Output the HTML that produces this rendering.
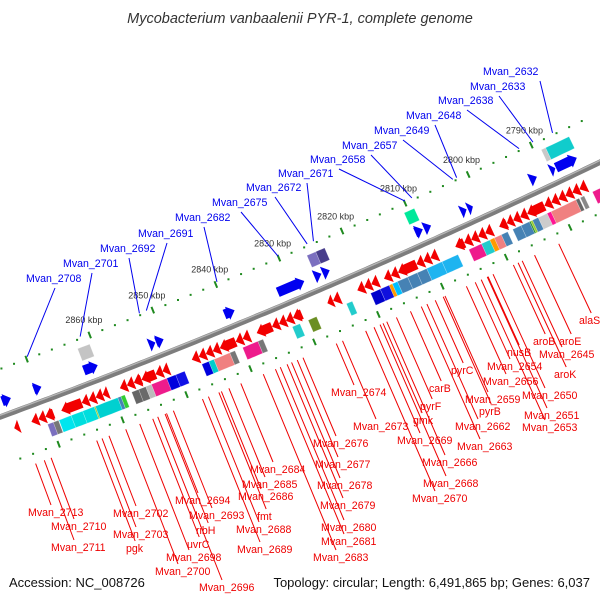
<!DOCTYPE html>
<html><head><meta charset="utf-8">
<style>
html,body{margin:0;padding:0;background:#fff;}
svg{display:block;font-family:"Liberation Sans",sans-serif;}
</style></head>
<body>
<svg id="map" width="600" height="600" viewBox="0 0 600 600" xmlns="http://www.w3.org/2000/svg">
<text x="300" y="23" text-anchor="middle" font-style="italic" font-size="14.5" fill="#333">Mycobacterium vanbaalenii PYR-1, complete genome</text>
<text x="9" y="587" font-size="13" fill="#111">Accession: NC_008726</text>
<text x="590" y="587" text-anchor="end" font-size="13" fill="#111">Topology: circular; Length: 6,491,865 bp; Genes: 6,037</text>
<g id="layer"></g>
</svg>
<script>
// ---- data (kbp) ----
const fwdStart=[2875.6,2870.6,2862.7,2852.4,2851.3,2840.5,2832.1,2826.3,2825.0,2810.4,2809.0,2803.2,2802.1,2792.3,2789.1,2788.2];
const fwdEnd  =[2874.2,2869.4,2860.5,2851.4,2850.1,2838.9,2827.9,2825.2,2823.9,2809.2,2807.9,2802.3,2801.3,2791.2,2788.3,2784.9];
const revStart=[2875.3,2872.6,2871.5,2870.4,2867.9,2864.7,2863.6,2862.5,2861.4,2858.7,2857.6,2856.5,2855.3,2853.1,2852.0,2847.4,2846.3,2845.2,2844.1,2843.0,2840.5,2839.4,2837.2,2834.8,2833.7,2832.6,2831.5,2826.1,2825.2,2821.4,2820.3,2819.2,2817.2,2816.1,2815.0,2812.1,2811.0,2809.9,2806.0,2804.6,2803.5,2802.4,2801.3,2799.1,2797.9,2796.9,2795.8,2794.7,2792.0,2790.9,2789.8,2788.7,2787.6,2786.5,2782.8];
const revEnd  =[2874.5,2871.5,2870.4,2869.1,2864.7,2863.6,2862.5,2861.4,2860.5,2857.6,2856.5,2855.3,2853.1,2852.0,2851.0,2846.3,2845.2,2844.1,2843.0,2840.5,2839.4,2838.3,2834.8,2833.7,2832.6,2831.5,2830.1,2825.2,2824.1,2820.3,2819.2,2818.1,2816.1,2815.0,2812.1,2811.0,2809.9,2808.8,2804.6,2803.5,2802.4,2801.3,2800.2,2797.9,2796.9,2795.8,2794.7,2792.0,2790.9,2789.8,2788.7,2787.6,2786.5,2785.4,2781.3];
const cogUpStart=[2862.4,2826.1,2824.7,2810.7,2789.0,2788.3];
const cogUpEnd  =[2860.5,2824.7,2823.3,2809.1,2788.3,2784.6];
const cogUpColor=["#c4c4c4","#7b6fbf","#483d8b","#00e89a","#c8c8c8","#10cccc"];
const cogLoStart=[2870.5,2869.6,2868.7,2866.8,2865.0,2863.2,2863.0,2859.5,2859.0,2857.3,2856.2,2855.1,2854.2,2851.8,2850.4,2846.3,2845.2,2844.4,2841.9,2839.9,2837.5,2832.1,2829.6,2823.6,2819.8,2818.3,2816.9,2816.4,2815.6,2814.0,2812.5,2811.0,2808.6,2804.4,2802.4,2801.1,2800.4,2799.3,2797.5,2796.2,2794.9,2794.7,2794.4,2793.5,2792.1,2791.5,2787.6,2786.9,2785.0,2781.4];
const cogLoEnd  =[2869.6,2868.8,2866.8,2865.0,2863.2,2863.0,2859.5,2859.0,2858.4,2856.2,2855.1,2854.2,2851.8,2850.4,2849.0,2845.2,2844.4,2841.9,2841.1,2837.5,2836.7,2830.9,2828.3,2822.7,2818.3,2816.9,2816.4,2815.6,2814.0,2812.5,2811.0,2808.6,2806.1,2802.4,2801.1,2800.4,2799.3,2798.3,2796.2,2794.9,2794.7,2794.4,2793.5,2792.1,2791.5,2787.6,2787.1,2786.3,2783.3,2780.6];
const cogLoColor=["#7b6fbf","#777777","#00e5ee","#00dede","#00dede","#9acd32","#00d0d0","#4682b4","#32cd32","#666666","#6a6a6a","#bbbbbb","#ee1b8c","#0000dd","#1010e6","#0000dd","#00cccc","#f08080","#777777","#ee1b8c","#777777","#22cccc","#6b8e23","#22cccc","#0000cc","#1010dd","#ff9900","#00bfff","#4682b4","#4682b4","#4682b4","#1eb4f0","#1eb4f0","#ee1b8c","#22cccc","#ff9900","#f08080","#4682b4","#4682b4","#4682b4","#228b22","#9acd32","#4682b4","#cccccc","#ff1493","#f08080","#666666","#888888","#ee1b8c","#777777"];
const tickKbp=[2790,2800,2810,2820,2830,2840,2850,2860];
const tickLabels=["2790 kbp","2800 kbp","2810 kbp","2820 kbp","2830 kbp","2840 kbp","2850 kbp","2860 kbp"];
const blueNames=["Mvan_2632","Mvan_2633","Mvan_2638","Mvan_2648","Mvan_2649","Mvan_2657","Mvan_2658","Mvan_2671","Mvan_2672","Mvan_2675","Mvan_2682","Mvan_2691","Mvan_2692","Mvan_2701","Mvan_2708"];
const blueKbp=[2786.5,2789.6,2791.8,2801.7,2802.3,2808.8,2809.9,2824.4,2825.4,2830.0,2839.7,2850.9,2852.0,2861.4,2869.8];
const redNames=["Mvan_2713","Mvan_2710","Mvan_2711","Mvan_2702","Mvan_2703","pgk","Mvan_2694","Mvan_2693","ribH","uvrC","Mvan_2698","Mvan_2700","Mvan_2696","Mvan_2684","Mvan_2685","Mvan_2686","fmt","Mvan_2688","Mvan_2689","Mvan_2683","Mvan_2681","Mvan_2680","Mvan_2679","Mvan_2678","Mvan_2677","Mvan_2676","Mvan_2674","Mvan_2673","Mvan_2669","gmk","pyrF","carB","pyrC","Mvan_2666","Mvan_2668","Mvan_2670","Mvan_2659","pyrB","Mvan_2662","Mvan_2663","Mvan_2656","Mvan_2654","nusB","aroB","aroE","Mvan_2645","aroK","Mvan_2650","Mvan_2651","Mvan_2653","alaS"];
// ---- layout (pixel placement of labels, not data) ----
const blueLayout=[[483,75],[470,90],[438,104],[406,119],[374,134],[342,149],[310,163],[278,177],[246,191],[212,206],[175,221],[138,237],[100,252],[63,267],[26,282]];
const redLayout=[[28,516],[51,530],[51,551],[113,517],[113,538],[126,552],[175,504],[189,519],[196,534],[187,548],[166,561],[155,575],[199,591],[250,473],[242,488],[238,500],[257,520],[236,533],[237,553],[313,561],[321,545],[321,531],[320,509],[317,489],[315,468],[313,447],[331,396],[353,430],[397,444],[413,424],[420,410],[429,392],[451,374],[422,466],[423,487],[412,502],[465,403],[479,415],[455,430],[457,450],[483,385],[487,370],[507,356],[533,345],[559,345],[539,358],[554,378],[522,399],[524,419],[522,431],[579,324]];

const NS="http://www.w3.org/2000/svg";
const layer=document.getElementById('layer');
function yb(x){return 417-0.368*x-9.44e-5*x*x;}
function slope(x){return -0.368-1.888e-4*x;}
function P(s,d){const m=slope(s),L=Math.hypot(1,m);return [s-d*m/L, yb(s)+d/L];}
function sOf(k){return (2876.69-k)/0.15748;}
function mk(tag,attrs){const e=document.createElementNS(NS,tag);for(const k in attrs)e.setAttribute(k,attrs[k]);layer.appendChild(e);return e;}
function pts(a){return a.map(p=>p[0].toFixed(1)+','+p[1].toFixed(1)).join(' ');}
function bandPts(s1,s2,d,h){const a=[],b=[];const n=Math.max(2,Math.ceil(Math.abs(s2-s1)/3));for(let i=0;i<=n;i++){const s=s1+(s2-s1)*i/n;a.push(P(s,d-h));b.push(P(s,d+h));}return a.concat(b.reverse());}
function arrowPts(sa,sb,d,dir){
  const lo=Math.min(sa,sb),hi=Math.max(sa,sb);const len=hi-lo;const hl=Math.min(7,len);
  const tip=dir>0?hi:lo, tail=dir>0?lo:hi, base=tip-dir*hl;
  const bh=5,hh=7;const r=[];
  if(len>hl+0.5){r.push(P(tail,d-bh));r.push(P(base,d-bh));}else{r.push(P(base,d-hh));}
  r.push(P(base,d-hh));r.push(P(tip,d));r.push(P(base,d+hh));
  if(len>hl+0.5){r.push(P(base,d+bh));r.push(P(tail,d+bh));}
  return r;}

const bb=[];for(let s=-20;s<=640;s+=5)bb.push(P(s,0));
let e=mk('polyline',{points:pts(bb),fill:'none',stroke:'#7d7d7d','stroke-width':5.5});


const bb2=[];for(let s=-20;s<=640;s+=5)bb2.push(P(s,-1.6));
e=mk('polyline',{points:pts(bb2),fill:'none',stroke:'#b5b5b5','stroke-width':1.4});



[-45,46].forEach(function(d,ti){
  for(let k=2780;k<=2878;k+=2){const s=sOf(k);if(s<-5||s>610)continue;
    if(k%10===0){const a=P(s,d-3.5),b=P(s,d+3.5);
      e=mk('line',{x1:a[0],y1:a[1],x2:b[0],y2:b[1],stroke:'#1f8a1f','stroke-width':2});
      
      
    } else {const c=P(s,d);
      e=mk('rect',{x:c[0]-1,y:c[1]-1,width:2,height:2,fill:'#1f8a1f'});
      
      }
  }});
tickKbp.forEach(function(k,i){const c=P(sOf(k),-61);
  e=mk('text',{x:c[0],y:c[1]+3,'text-anchor':'middle','font-size':9,fill:'#333'});e.textContent=tickLabels[i];
  
  });

cogUpStart.forEach(function(k,i){
  e=mk('polygon',{points:pts(bandPts(sOf(k),sOf(cogUpEnd[i]),-30,6.5)),fill:cogUpColor[i],stroke:'rgba(255,255,255,0.35)','stroke-width':0.6});
  
  });
cogLoStart.forEach(function(k,i){
  e=mk('polygon',{points:pts(bandPts(sOf(k),sOf(cogLoEnd[i]),30,6.5)),fill:cogLoColor[i],stroke:'rgba(255,255,255,0.35)','stroke-width':0.6});
  
  });
fwdStart.forEach(function(k,i){
  e=mk('polygon',{points:pts(arrowPts(sOf(k),sOf(fwdEnd[i]),-14,1)),fill:'#0000f0'});
  
  });
revStart.forEach(function(k,i){
  e=mk('polygon',{points:pts(arrowPts(sOf(k),sOf(revEnd[i]),15.5,-1)),fill:'#f20000'});
  
  });

blueNames.forEach(function(nm,i){const L=blueLayout[i];
  const a=P(sOf(blueKbp[i]),-47);
  const sx=i===0?L[0]+57:L[0]+29, sy=L[1]+6;
  e=mk('line',{x1:sx,y1:sy,x2:a[0],y2:a[1],stroke:'#0000ee','stroke-width':1});
  
  
  e=mk('text',{x:L[0],y:L[1],'font-size':10.6,fill:'#0000ee'});e.textContent=nm;
  
  });

function findS(px,py){let lo=-300,hi=1000;for(let it=0;it<60;it++){const mid=(lo+hi)/2;const m=slope(mid),L=Math.hypot(1,m);const v=(px-mid)/L+(py-yb(mid))*m/L;if(v>0)lo=mid;else hi=mid;}return (lo+hi)/2;}
redNames.forEach(function(nm,i){const L=redLayout[i];
  const w=nm.length*6.1;const ex=L[0]+Math.min(23,w/2),ey=L[1]-11;
  const s=findS(ex,ey);const a=P(s,56);
  e=mk('line',{x1:a[0],y1:a[1],x2:ex,y2:ey,stroke:'#ee0000','stroke-width':1});
  
  
  e=mk('text',{x:L[0],y:L[1],'font-size':10.6,fill:'#ee0000'});e.textContent=nm;
  
  });
</script>
</body></html>
